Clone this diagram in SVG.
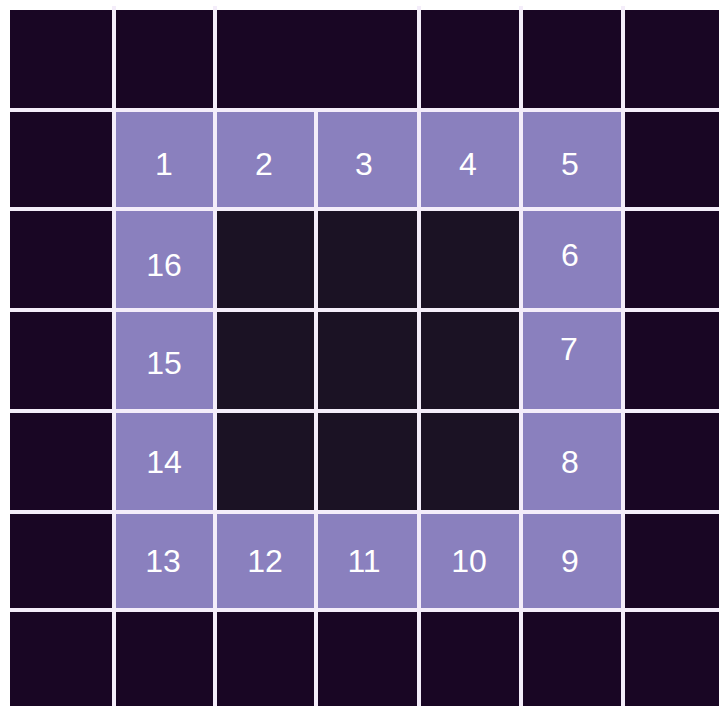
<svg xmlns="http://www.w3.org/2000/svg" width="719" height="706" viewBox="0 0 719 706">
<style>
.cell{fill:#8a80be}
.dark{fill:#190624}
.inner{fill:#1b1224}
.lbl{font-family:"Liberation Sans",Arial,sans-serif;font-size:32px;fill:#ffffff;text-anchor:middle}
.grid line{stroke:#f4edfa;stroke-width:4}
</style>
<rect x="0" y="0" width="719" height="706" fill="#ffffff"/>
<rect class="dark" x="10" y="10" width="709" height="696"/>
<rect class="inner" x="215" y="209" width="306" height="303"/>
<g id="n1"><rect class="cell" x="114" y="110" width="101" height="99"/><text class="lbl" x="164" y="175">1</text></g>
<g id="n2"><rect class="cell" x="215" y="110" width="101" height="99"/><text class="lbl" x="264" y="175">2</text></g>
<g id="n3"><rect class="cell" x="316" y="110" width="103" height="99"/><text class="lbl" x="364" y="175">3</text></g>
<g id="n4"><rect class="cell" x="419" y="110" width="102" height="99"/><text class="lbl" x="468" y="175">4</text></g>
<g id="n5"><rect class="cell" x="521" y="110" width="102" height="99"/><text class="lbl" x="570" y="175">5</text></g>
<g id="n6"><rect class="cell" x="521" y="209" width="102" height="101"/><text class="lbl" x="570" y="266">6</text></g>
<g id="n7"><rect class="cell" x="521" y="310" width="102" height="101"/><text class="lbl" x="569" y="360">7</text></g>
<g id="n8"><rect class="cell" x="521" y="411" width="102" height="101"/><text class="lbl" x="570" y="473">8</text></g>
<g id="n9"><rect class="cell" x="521" y="512" width="102" height="98"/><text class="lbl" x="570" y="572">9</text></g>
<g id="n10"><rect class="cell" x="419" y="512" width="102" height="98"/><text class="lbl" x="469" y="572">10</text></g>
<g id="n11"><rect class="cell" x="316" y="512" width="103" height="98"/><text class="lbl" x="364" y="572">11</text></g>
<g id="n12"><rect class="cell" x="215" y="512" width="101" height="98"/><text class="lbl" x="265" y="572">12</text></g>
<g id="n13"><rect class="cell" x="114" y="512" width="101" height="98"/><text class="lbl" x="163" y="572">13</text></g>
<g id="n14"><rect class="cell" x="114" y="411" width="101" height="101"/><text class="lbl" x="164" y="473">14</text></g>
<g id="n15"><rect class="cell" x="114" y="310" width="101" height="101"/><text class="lbl" x="164" y="374">15</text></g>
<g id="n16"><rect class="cell" x="114" y="209" width="101" height="101"/><text class="lbl" x="164" y="276">16</text></g>
<g class="grid" id="connectors">
<line x1="10" y1="110" x2="719" y2="110"/>
<line x1="10" y1="209" x2="719" y2="209"/>
<line x1="10" y1="310" x2="719" y2="310"/>
<line x1="10" y1="411" x2="719" y2="411"/>
<line x1="10" y1="512" x2="719" y2="512"/>
<line x1="10" y1="610" x2="719" y2="610"/>
<line x1="114" y1="6" x2="114" y2="706"/>
<line x1="215" y1="6" x2="215" y2="706"/>
<line x1="316" y1="110" x2="316" y2="706"/>
<line x1="419" y1="6" x2="419" y2="706"/>
<line x1="521" y1="6" x2="521" y2="706"/>
<line x1="623" y1="6" x2="623" y2="706"/>
</g>
</svg>
